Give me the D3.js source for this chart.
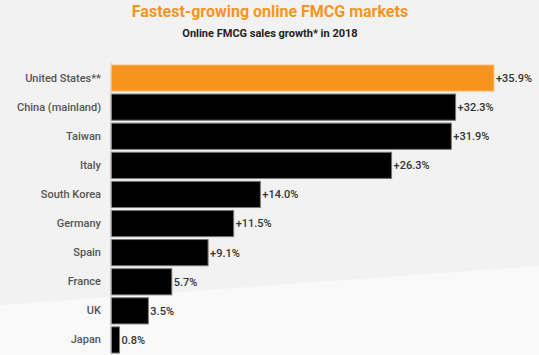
<!DOCTYPE html>
<html>
<head>
<meta charset="utf-8">
<script src="https://cdn.jsdelivr.net/npm/d3@7"></script>
<style>
    body { margin: 0; background: #f2f2f2; }
    svg { display: block; font-family: Roboto, "Noto Sans", sans-serif; }
</style>
</head>
<body>
<div id="chart"></div>
<script>
const countries = ["United States**", "China (mainland)", "Taiwan", "Italy", "South Korea",
    "Germany", "Spain", "France", "UK", "Japan"];
const growth = [35.9, 32.3, 31.9, 26.3, 14.0, 11.5, 9.1, 5.7, 3.5, 0.8];
const valueLabels = ["+35.9%", "+32.3%", "+31.9%", "+26.3%", "+14.0%", "+11.5%", "+9.1%", "5.7%", "3.5%", "0.8%"];

const width = 539, height = 355;
const margin = { left: 111, top: 63.5, bottom: 0.5 };

let data = countries.map((c, i) => ({ country: c, value: growth[i], label: valueLabels[i] }));

let svg = d3.select("#chart")
    .append("svg")
    .attr("width", width)
    .attr("height", height);

// lighter wedge in the lower-left of the background
svg.append("rect")
    .attr("width", width)
    .attr("height", height)
    .attr("fill", "#f2f2f2");

svg.append("polygon")
    .attr("points", `0,305 ${width},266 ${width},${height} 0,${height}`)
    .attr("fill", "#f9f9f9");

let x = d3.scaleLinear()
    .domain([0, 35.9])
    .range([margin.left, 494]);

let y = d3.scaleBand()
    .domain(countries)
    .range([margin.top, height - margin.bottom])
    .paddingInner(0.1)
    .paddingOuter(0.05);

svg.append("text")
    .attr("x", 270)
    .attr("y", 17)
    .attr("text-anchor", "middle")
    .style("font-size", "16px")
    .style("font-weight", "bold")
    .attr("fill", "#f7941d")
    .text("Fastest-growing online FMCG markets");

svg.append("text")
    .attr("x", 270)
    .attr("y", 37)
    .attr("text-anchor", "middle")
    .style("font-size", "11px")
    .style("font-weight", "bold")
    .attr("fill", "#222")
    .text("Online FMCG sales growth* in 2018");

svg.selectAll("rect.bar")
    .data(data)
    .enter()
    .append("rect")
    .attr("class", "bar")
    .attr("x", x(0))
    .attr("y", d => y(d.country))
    .attr("width", d => x(d.value) - x(0))
    .attr("height", y.bandwidth())
    .attr("fill", (d, i) => i == 0 ? "#f7941d" : "#000")
    .attr("stroke", (d, i) => i == 0 ? "#f9c88a" : "#777")
    .attr("stroke-width", 1);

// axis line with category labels
let yAxis = svg.append("g")
    .attr("transform", `translate(${x(0)}, 0)`)
    .call(d3.axisLeft(y).tickSize(0).tickPadding(10));

yAxis.select(".domain")
    .attr("stroke", "#d4d4d4")
    .attr("d", `M0,${margin.top - 2}V${height}`);

yAxis.selectAll("text")
    .style("font-size", "11px")
    .style("font-family", "Roboto, sans-serif")
    .style("font-weight", "500")
    .attr("fill", "#555");

svg.selectAll("text.val")
    .data(data)
    .enter()
    .append("text")
    .attr("class", "val")
    .attr("x", d => x(d.value) + 2)
    .attr("y", d => y(d.country) + y.bandwidth() / 2)
    .attr("dy", "0.35em")
    .style("font-size", "11px")
    .style("font-weight", "500")
    .attr("fill", "#333")
    .text(d => d.label);
</script>
</body>
</html>
